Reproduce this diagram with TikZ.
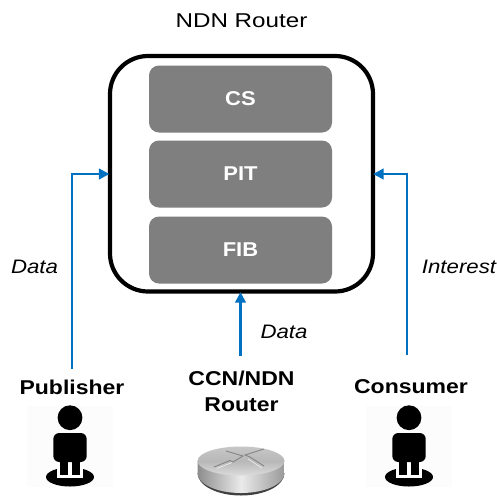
\documentclass[tikz,border=0pt]{standalone}
\usepackage{fontspec}
\setmainfont{Liberation Sans}
\newfontfamily\titlefont[FakeStretch=1.21]{Liberation Sans}
\newfontfamily\rolefont[FakeStretch=1.15]{Liberation Sans}
\newfontfamily\cellfont[FakeStretch=1.1]{Liberation Sans}
\newfontfamily\flowfont[FakeStretch=1.14]{Liberation Sans}
\usetikzlibrary{arrows.meta,positioning}
\definecolor{arrowblue}{RGB}{0,112,192}
\definecolor{boxgray}{RGB}{127,127,127}
\tikzset{
  x=1pt,y=-1pt,
  tablebox/.style={draw=none,fill=boxgray,rounded corners=10pt,minimum width=183pt,minimum height=67pt,inner sep=0pt,text=white,font=\cellfont\fontsize{20}{24}\bfseries\selectfont},
  outerbox/.style={draw=black,line width=4.2pt,rounded corners=38pt,minimum width=263pt,minimum height=235.5pt,inner sep=0pt},
  flow/.style={draw=arrowblue,line width=2.5pt,-{Triangle[length=10.5pt,width=10.5pt]}},
  rolelabel/.style={font=\rolefont\fontsize{20}{25.5}\bfseries\selectfont,align=center,inner sep=0pt},
  flowlabel/.style={font=\flowfont\fontsize{19.5}{22}\itshape\selectfont,inner sep=0pt},
  titlelabel/.style={font=\titlefont\fontsize{20}{23}\selectfont,inner sep=0pt},
}
\newcommand{\personicon}[1]{%
  \begin{scope}[shift={(#1,0)}]
    \fill[black!1] (-43,406) rectangle (43,487);
    \fill[black] (0,477) ellipse [x radius=24,y radius=9.5];
    \fill[white] (-13,460) rectangle (13,477.5);
    \fill[black, rounded corners=6pt] (-16.7,433) rectangle (16.7,462);
    \fill[black] (-10,455) rectangle (-1.7,475);
    \fill[black] (1.7,455) rectangle (10,475);
    \fill[black] (0,417.7) circle [radius=12.4];
  \end{scope}}
\begin{document}
\begin{tikzpicture}
\useasboundingbox (0,0) rectangle (497,496);
\fill[white] (0,0) rectangle (497,496);
\node[outerbox] (router) at (241.5,173.75) {};
\node[tablebox] (cs) at (240.5,99) {CS};
\node[tablebox] (pit) at (240.5,174) {PIT};
\node[tablebox] (fib) at (240.5,250) {FIB};
\node[titlelabel] (title) at (241.5,21) {NDN Router};
\node[rolelabel] (pub) at (72,387) {Publisher};
\node[rolelabel] (ccn) at (241.5,391.5) {CCN/NDN\\Router};
\node[rolelabel] (con) at (411,387) {Consumer};
\node[flowlabel] (d1) at (34.5,267) {Data};
\node[flowlabel] (d2) at (284,332) {Data};
\node[flowlabel] (int) at (459,267) {Interest};
\coordinate (pubstart) at (72,369);
\coordinate (constart) at (407,355);
\coordinate (ccnstart) at (240.5,356);
\coordinate (pubin) at (router.west |- pit.center);
\coordinate (conin) at (router.east |- pit.center);
\coordinate (ccnin) at (ccnstart |- router.south);
\draw[flow] (pubstart) |- ([xshift=1.5pt]pubin);
\draw[flow] (constart) |- ([xshift=-2pt]conin);
\draw[flow] (ccnstart) -- ([yshift=1.5pt]ccnin);
\personicon{70}
\personicon{409}
% router icon
\fill[black!75] (197.5,473) arc[start angle=180,end angle=0,x radius=43.5,y radius=22.5] -- cycle;
\shade[left color=black!45,right color=black!40,middle color=black!8] (197.5,461) -- (197.5,473) arc[start angle=180,end angle=0,x radius=43.5,y radius=20] -- (284.5,461) -- cycle;
\shade[top color=black!22,bottom color=black!14,middle color=black!28] (241,461) ellipse [x radius=43.5,y radius=14.5];
\draw[black!48,line width=.9pt] (214,467) -- (230,460.5) -- (233,462) -- (243,456) -- (226,451);
\draw[black!48,line width=.9pt] (264,449) -- (245,455) -- (250,457) -- (264,466);
\draw[black!8,line width=.7pt] (217,468.5) -- (232,462.5);
\draw[black!8,line width=.7pt] (248,459) -- (262,468);
\end{tikzpicture}
\end{document}
